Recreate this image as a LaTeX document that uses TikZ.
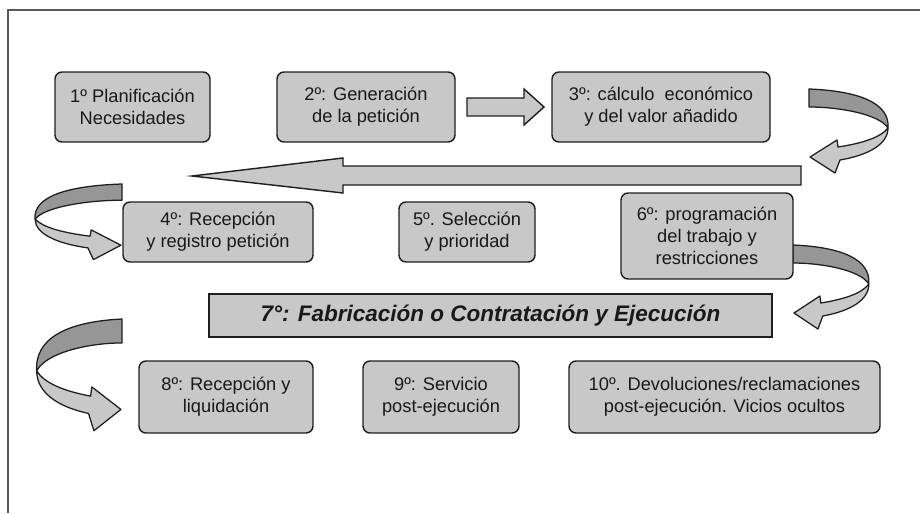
\documentclass[tikz,border=0pt]{standalone}
\usepackage{fontspec}
\setmainfont{Liberation Sans}
\definecolor{relleno}{RGB}{200,200,200}
\definecolor{sombra}{RGB}{150,150,150}
\definecolor{borde}{RGB}{30,30,30}
\definecolor{marco}{RGB}{90,90,90}
\tikzset{
  rizo/.pic={
    % banda trasera (oscura)
    \filldraw[fill=sombra,draw=borde,line width=0.9pt,line join=round]
      (0,0) .. controls (50,2) and (81,14) .. (79,39)
      .. controls (70,25) and (30,18) .. (0,18) -- cycle;
    % banda delantera con la punta
    \filldraw[fill=relleno,draw=borde,line width=0.9pt,line join=round]
      (79,39) .. controls (79,55) and (60,66) .. (31,71)
      -- (26,84) -- (1,68) -- (28,51) -- (29,58)
      .. controls (55,54) and (72,48) .. (79,39) -- cycle;
  }
}
\begin{document}
\begin{tikzpicture}
    [
    x=0.025cm, y=-0.025cm,
    caja/.style 2 args={draw=borde,fill=relleno,line width=1pt,rounded corners=5pt,
      align=center,inner sep=0pt,text=black!90,
      font=\fontsize{13}{15.6}\selectfont,
      minimum width=#1*0.025cm,minimum height=#2*0.025cm},
    barra/.style 2 args={draw=borde,fill=relleno,line width=1pt,inner sep=0pt,
      font=\fontsize{16}{19}\selectfont\bfseries\itshape,text=black!90,
      minimum width=#1*0.025cm,minimum height=#2*0.025cm},
    flecha/.style={draw=borde,fill=relleno,line width=1pt,line join=miter}
    ]
    \useasboundingbox (0,0) rectangle (920,513);
    \draw [marco,line width=1.2pt] (8,513) -- (8,10) -- (920,10);
    % flechas
    \draw [flecha] (467,98) -- (524,98) -- (524,89) -- (544,107) -- (524,125) -- (524,116) -- (467,116) -- cycle;
    \draw [flecha] (801,166) -- (343,166) -- (343,158) -- (192,176) -- (343,193) -- (343,185) -- (801,185) -- cycle;
    \pic at (809,89) {rizo};
    \pic [xscale=-1.1,yscale=0.9] at (122,184) {rizo};
    \pic [xscale=0.96] at (793,245) {rizo};
    \pic [xscale=-1.08,yscale=1.33] at (122,319) {rizo};
    % cajas
    \node (1) at (132.5,107) [caja={155}{70}] {1º Planificación\\Necesidades};
    \node (2) at (366,107) [caja={178}{70}] {2º: Generación\\de la petición};
    \node (3) at (661,107) [caja={218}{70}] {3º: cálculo\ \ económico\\y del valor añadido};
    \node (4) at (218,232) [caja={190}{60}] {4º: Recepción\\y registro petición};
    \node (5) at (467,232) [caja={136}{60}] {5º. Selección\\y prioridad};
    \node (6) at (707,236) [caja={172}{86}] {6º: programación\\del trabajo y\\restricciones};
    \node (7) at (490.5,315.5) [barra={563}{43}] {7°: Fabricación o Contratación y Ejecución};
    \node (8) at (226,397) [caja={174}{72}] {8º: Recepción y\\liquidación};
    \node (9) at (441,397) [caja={156}{72}] {9º: Servicio\\post-ejecución};
    \node (10) at (724.5,397) [caja={311}{72}] {10º. Devoluciones/reclamaciones\\post-ejecución. Vicios ocultos};
  \end{tikzpicture}
\end{document}
